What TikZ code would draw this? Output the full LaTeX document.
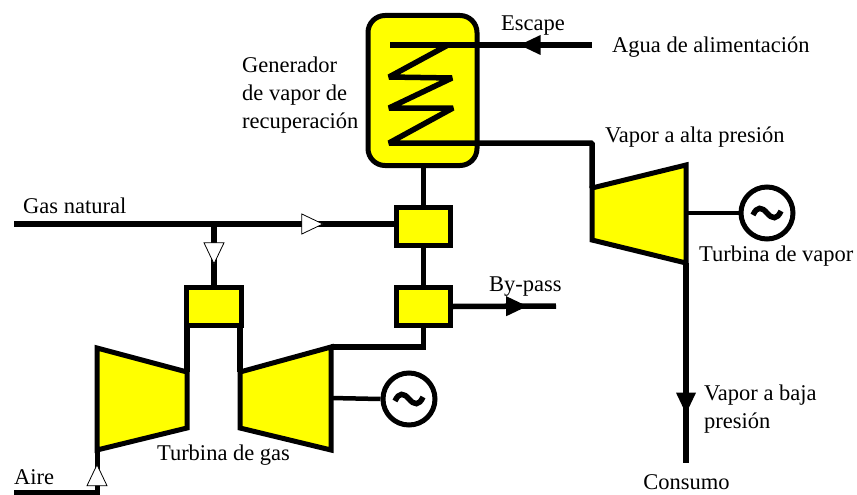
\documentclass[tikz,border=0pt]{standalone}
\usepackage{fontspec}
\setmainfont{Liberation Serif}
\usetikzlibrary{shapes.geometric}
\definecolor{unityellow}{RGB}{255,255,0}
\tikzstyle{pipe}=[line width=5.5pt, line join=miter]
\tikzstyle{unit}=[draw, line width=5pt, fill=unityellow, miter limit=10]
\tikzstyle{mixer}=[unit, minimum width=54pt, minimum height=38pt, inner sep=0pt]
\tikzstyle{gen}=[draw, line width=5pt, fill=white, circle, minimum size=52pt, inner sep=0pt]
\tikzstyle{label}=[inner sep=0pt, font=\fontsize{22.5}{28}\selectfont]
\tikzstyle{tip}=[isosceles triangle, isosceles triangle stretches, inner sep=0pt, minimum width=20pt, minimum height=21pt]
\tikzstyle{tipopen}=[tip, draw, line width=0.8pt, fill=white]
\tikzstyle{tipfull}=[tip, fill=black]
\def\acwave#1{\draw [shift={(#1)},line width=5.5pt] (-14,2) .. controls (-10,-7) and (-5,-6) .. (0,0) .. controls (5,6) and (10,7) .. (14,-2);}

\begin{document}
\begin{tikzpicture}[x=1pt,y=-1pt]
	\useasboundingbox (0,0) rectangle (857,495);

	% Define the nodes in the picture
	\node (hrsg)[unit,rounded corners=17pt,minimum width=109pt,minimum height=150pt] at (422.5,90.5){};
	\node (mix_top)[mixer] at (423.5,226){};
	\node (mix_low)[mixer,below of=mix_top,node distance=80.5pt]{};
	\node (combustor)[mixer,minimum width=55pt] at (214,306){};
	\node (gen_gas)[gen] at (409,399){};
	\node (gen_vap)[gen] at (767,213){};

	\coordinate (water_in) at (592,45);
	\coordinate (coil_a) at (390,45);
	\coordinate (coil_b) at (448,45);
	\coordinate (coil_c) at (389,77);
	\coordinate (coil_d) at (452,78);
	\coordinate (coil_e) at (389,108);
	\coordinate (coil_f) at (453,108);
	\coordinate (coil_g) at (389,143);
	\coordinate (vap_corner) at (592,143);
	\coordinate (vap_in) at (592,188);
	\coordinate (vap_out) at (686,263);
	\coordinate (vap_shaft) at (686,213);
	\coordinate (vap_end) at (686,463);
	\coordinate (gas_in) at (14,224);
	\coordinate (gas_tee) at (214,224);
	\coordinate (gas_end) at (397,224);
	\coordinate (bypass_end) at (556,306);
	\coordinate (exh_out) at (331,347);
	\coordinate (gas_shaft) at (331,398);
	\coordinate (air_in) at (14,492);
	\coordinate (air_corner) at (97,492);
	\coordinate (air_out) at (97,450);
	\coordinate (comb_l) at (187,325);
	\coordinate (comb_r) at (240,325);
	\coordinate (comp_l) at (187,372);
	\coordinate (turb_r) at (240,372);

	% Define the edges in the picture
	\draw [pipe] (comb_l) -- (comp_l);
	\draw [pipe] (comb_r) -- (turb_r);
	\draw [unit] (97,348) -- (187,372) -- (187,428) -- (97,450) -- cycle;
	\draw [unit] (240,372) -- (331,347) -- (331,450) -- (240,428) -- cycle;
	\draw [unit] (vap_in) -- (686,165) -- (vap_out) -- (592,240) -- cycle;

	\draw [pipe] (water_in) --node[tipfull,pos=0.286,shape border rotate=180]{}(coil_a);
	\draw [pipe,line join=bevel] (coil_b) -- (coil_c) -- (coil_d) -- (coil_e) -- (coil_f) -- (coil_g) -- (vap_corner) -- (vap_in);
	\draw [pipe] (hrsg.south -| mix_top) -- (mix_top.north);
	\draw [pipe] (mix_top.south) -- (mix_low.north);
	\draw [pipe] (gas_in) --node[tipopen,pos=0.768]{}(gas_end);
	\draw [pipe] (gas_tee) --node[tipopen,pos=0.415,shape border rotate=-90]{}(combustor.north);
	\draw [pipe] (mix_low.east) --node[tipfull,pos=0.578]{}(bypass_end);
	\draw [pipe] (mix_low.south) |- (exh_out);
	\draw [pipe,line width=4.5pt] (gas_shaft) -- (gen_gas.west);
	\draw [pipe,line width=4.5pt] (vap_shaft) -- (gen_vap.west);
	\draw [pipe] (vap_out) --node[tipfull,pos=0.68,shape border rotate=-90]{}(vap_end);
	\draw [pipe,line width=5pt] (air_in) -- (air_corner) --node[tipopen,pos=0.30,shape border rotate=90]{}(air_out);
	\acwave{gen_gas}
	\acwave{gen_vap}

	% Define the labels in the picture
	\node (lbl_escape)[label] at (533,26){Escape};
	\node (lbl_water)[label,anchor=west] at (612,47){Agua de alimentación};
	\node (lbl_hrsg)[label,anchor=west,align=left] at (242,95){Generador\\de vapor de\\recuperación};
	\node (lbl_high)[label,anchor=west] at (605,137){Vapor a alta presión};
	\node (lbl_gas)[label,anchor=west] at (23,206){Gas natural};
	\node (lbl_bypass)[label,anchor=west] at (489,287){By-pass};
	\node (lbl_tgas)[label] at (223.5,455){Turbina de gas};
	\node (lbl_air)[label,anchor=west] at (14,477){Aire};
	\node (lbl_tvap)[label,anchor=west] at (699,256){Turbina de vapor};
	\node (lbl_low)[label,anchor=west,align=left] at (704,409){Vapor a baja\\presión};
	\node (lbl_use)[label] at (686.5,482){Consumo};
\end{tikzpicture}
\end{document}
